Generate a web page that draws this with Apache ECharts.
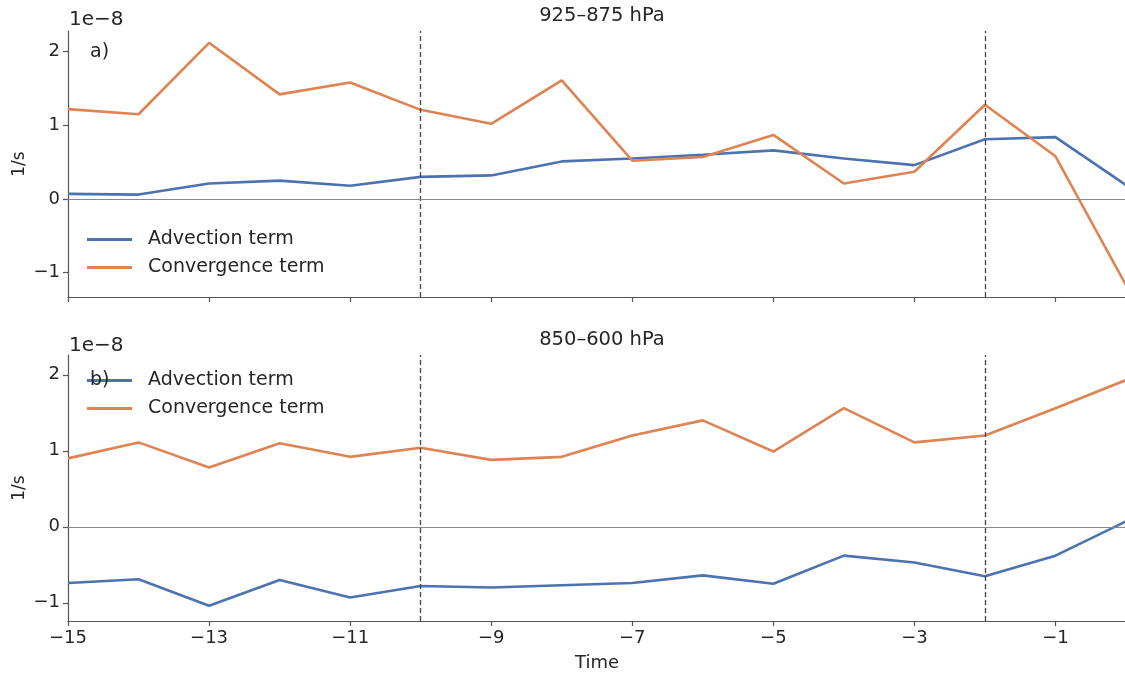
<!DOCTYPE html>
<html>
<head>
<meta charset="utf-8">
<script src="https://cdn.jsdelivr.net/npm/echarts@6/dist/echarts.min.js"></script>
<style>html,body{margin:0;padding:0;background:#fff}#c{width:1125px;height:674px}</style>
</head>
<body>
<div id="c"></div>
<script>
// Data (units of 1e-8 1/s)
const times = [-15,-14,-13,-12,-11,-10,-9,-8,-7,-6,-5,-4,-3,-2,-1,0];
const advTop  = [0.07,0.06,0.21,0.25,0.18,0.30,0.32,0.51,0.55,0.60,0.66,0.55,0.46,0.81,0.84,0.19];
const convTop = [1.22,1.15,2.12,1.42,1.58,1.21,1.02,1.61,0.52,0.57,0.87,0.21,0.37,1.28,0.58,-1.17];
const advBot  = [-0.74,-0.69,-1.04,-0.70,-0.93,-0.78,-0.80,-0.77,-0.74,-0.64,-0.75,-0.38,-0.47,-0.65,-0.38,0.07];
const convBot = [0.90,1.11,0.78,1.10,0.92,1.04,0.88,0.92,1.20,1.40,0.99,1.56,1.11,1.20,1.56,1.93];
const xTicks = [-15,-13,-11,-9,-7,-5,-3,-1];
const yTicks = [-1,0,1,2];
const eventTimes = [-10,-2];
const titles = ['925–875 hPa','850–600 hPa'];
const panelTags = ['a)','b)'];
const seriesNames = ['Advection term','Convergence term'];

const BLUE = '#4c72b0', ORANGE = '#dd8452', TXT = '#262626', AX = '#555';
const font = 'DejaVu Sans, sans-serif';
const fmt = v => (v < 0 ? '\u2212' + Math.abs(v) : String(v));
const pair = (xs, ys) => xs.map((x, i) => [x, ys[i]]);

const chart = echarts.init(document.getElementById('c'));
const grids = [
  {left: 68, right: -1, top: 31, height: 266, outerBoundsMode: 'none', containLabel: false},
  {left: 68, right: -1, top: 355, height: 266, outerBoundsMode: 'none', containLabel: false}
];
const yRanges = [[-1.33, 2.28], [-1.24, 2.26]];

function xAxis(i) {
  return {
    type: 'value', gridIndex: i, min: -15, max: 0,
    axisLine: {show: true, onZero: false, lineStyle: {color: AX, width: 1.2}},
    axisTick: {show: true, length: 5, lineStyle: {color: AX, width: 1.2}, customValues: xTicks},
    axisLabel: {show: i === 1, customValues: xTicks, formatter: fmt, color: TXT, fontSize: 18, margin: 8, fontFamily: font},
    splitLine: {show: false},
    name: i === 1 ? 'Time' : '', nameLocation: 'middle', nameGap: 33, nameMoveOverlap: false,
    nameTextStyle: {color: TXT, fontSize: 18, fontFamily: font}
  };
}
function yAxis(i) {
  return {
    type: 'value', gridIndex: i, min: yRanges[i][0], max: yRanges[i][1],
    axisLine: {show: true, onZero: false, lineStyle: {color: AX, width: 1.2}},
    axisTick: {show: true, length: 5, lineStyle: {color: AX, width: 1.2}, customValues: yTicks},
    axisLabel: {customValues: yTicks, formatter: fmt, color: TXT, fontSize: 18, margin: 8, fontFamily: font},
    splitLine: {show: false},
    name: '1/s', nameLocation: 'middle', nameGap: 40, nameRotate: 90, nameMoveOverlap: false,
    nameTextStyle: {color: TXT, fontSize: 17, fontFamily: font}
  };
}
function lineSeries(name, i, ys, color, withMarks) {
  const s = {
    name, type: 'line', xAxisIndex: i, yAxisIndex: i, data: pair(times, ys),
    symbol: 'none', lineStyle: {color, width: 2.6}, itemStyle: {color},
    animation: false, z: 3
  };
  if (withMarks) {
    s.markLine = {
      silent: true, symbol: 'none', animation: false, label: {show: false},
      data: [
        ...eventTimes.map(t => ({xAxis: t, lineStyle: {color: '#444', width: 1.3, type: [5, 3]}})),
        {yAxis: 0, lineStyle: {color: '#888', width: 1.2, type: 'solid'}}
      ]
    };
  }
  return s;
}
const tStyle = (size) => ({fontSize: size, fontWeight: 'normal', color: TXT, fontFamily: font});
const legendBase = {
  left: 87, orient: 'vertical', itemWidth: 45, itemHeight: 3, itemGap: 9, icon: 'rect', padding: 0,
  data: seriesNames, selectedMode: false,
  textStyle: {fontSize: 19, color: TXT, fontFamily: font, padding: [0, 0, 0, 11]}
};
const option = {
  backgroundColor: '#fff',
  animation: false,
  title: [
    {text: titles[0], left: 597, top: 1, textAlign: 'center', textStyle: tStyle(19.5)},
    {text: titles[1], left: 597, top: 325, textAlign: 'center', textStyle: tStyle(19.5)},
    {text: '1e\u22128', left: 64, top: 5, textStyle: tStyle(20)},
    {text: '1e\u22128', left: 64, top: 331, textStyle: tStyle(20)},
    {text: panelTags[0], left: 85, top: 38, textStyle: tStyle(19)},
    {text: panelTags[1], left: 85, top: 366, textStyle: tStyle(19)}
  ],
  grid: grids,
  xAxis: [xAxis(0), xAxis(1)],
  yAxis: [yAxis(0), yAxis(1)],
  legend: [
    Object.assign({}, legendBase, {top: 230}),
    Object.assign({}, legendBase, {top: 371})
  ],
  series: [
    lineSeries(seriesNames[0], 0, advTop, BLUE, true),
    lineSeries(seriesNames[1], 0, convTop, ORANGE, false),
    lineSeries(seriesNames[0], 1, advBot, BLUE, true),
    lineSeries(seriesNames[1], 1, convBot, ORANGE, false)
  ]
};
chart.setOption(option);
</script>
</body>
</html>
